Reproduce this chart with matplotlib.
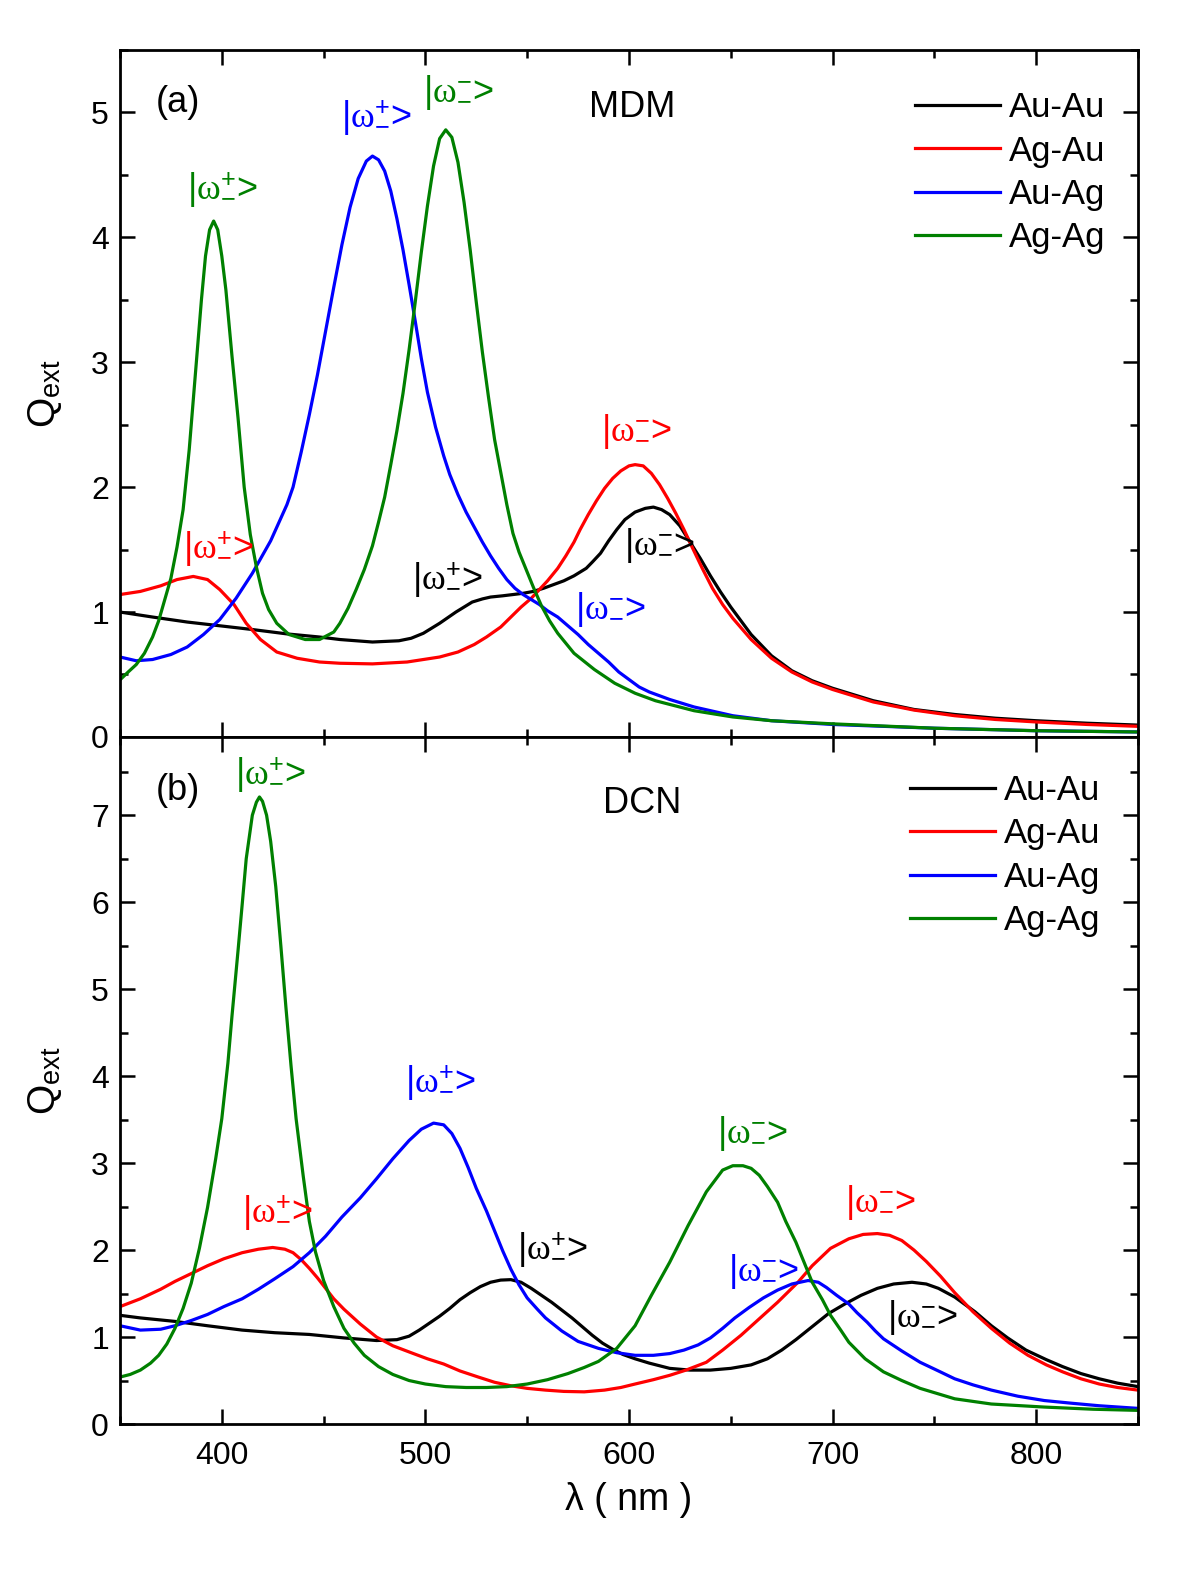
import matplotlib
matplotlib.use("Agg")
import matplotlib.pyplot as plt
from matplotlib.ticker import MultipleLocator

plt.rcParams['font.family'] = ['Liberation Sans', 'DejaVu Sans']
plt.rcParams['mathtext.fontset'] = 'custom'
plt.rcParams['mathtext.rm'] = 'Liberation Serif'
plt.rcParams['mathtext.it'] = 'Liberation Serif:italic'
plt.rcParams['mathtext.sf'] = 'Liberation Sans'

# ---- (a) MDM ----
mdm_auau_wl = [350, 356, 366, 383, 399, 415, 432, 448, 458, 474, 487, 493, 499, 503, 507, 511, 515, 519, 523, 528,
               532, 538, 543, 548, 553, 558, 563, 568, 573, 576, 579, 582, 586, 590, 594, 598, 603, 608, 612, 616,
               620, 625, 630, 635, 640, 645, 650, 660, 670, 680, 690, 700, 720, 740, 760, 780, 800, 825, 850]
mdm_auau_q = [1.00, 0.985, 0.96, 0.92, 0.89, 0.86, 0.825, 0.80, 0.78, 0.76, 0.77, 0.79, 0.83, 0.87, 0.91, 0.955, 1.00, 1.04, 1.08, 1.105,
              1.12, 1.13, 1.14, 1.15, 1.165, 1.19, 1.22, 1.25, 1.29, 1.32, 1.35, 1.40, 1.47, 1.57, 1.66, 1.74, 1.80, 1.83, 1.84, 1.82,
              1.78, 1.69, 1.56, 1.43, 1.29, 1.16, 1.04, 0.82, 0.65, 0.53, 0.45, 0.39, 0.29, 0.22, 0.18, 0.15, 0.13, 0.11, 0.095]

mdm_agau_wl = [350, 360, 370, 378, 386, 393, 399, 406, 412, 419, 427, 437, 448, 458, 474, 491, 507, 516, 524, 530,
               537, 542, 547, 552, 556, 560, 565, 569, 573, 576, 580, 584, 588, 592, 596, 600, 603, 607, 611, 615,
               619, 623, 627, 631, 636, 641, 646, 651, 660, 670, 680, 690, 700, 720, 740, 760, 780, 800, 825, 850]
mdm_agau_q = [1.14, 1.165, 1.21, 1.26, 1.285, 1.26, 1.18, 1.06, 0.91, 0.78, 0.68, 0.63, 0.60, 0.59, 0.585, 0.60, 0.64, 0.68, 0.74, 0.80,
              0.88, 0.96, 1.04, 1.11, 1.18, 1.25, 1.35, 1.45, 1.56, 1.66, 1.78, 1.89, 1.99, 2.07, 2.13, 2.17, 2.18, 2.17, 2.11, 2.02,
              1.91, 1.79, 1.66, 1.52, 1.35, 1.19, 1.06, 0.95, 0.78, 0.63, 0.52, 0.44, 0.38, 0.28, 0.215, 0.17, 0.14, 0.12, 0.10, 0.085]

mdm_auag_wl = [350, 358, 366, 375, 383, 391, 399, 407, 415, 424, 432, 435, 439, 443, 447, 451, 455, 459, 463, 467,
               471, 474, 477, 480, 483, 486, 489, 492, 495, 498, 501, 505, 509, 512, 516, 520, 524, 528, 532, 536,
               540, 544, 548, 552, 556, 560, 565, 570, 575, 580, 585, 590, 595, 600, 605, 610, 620, 632, 651, 670,
               700, 750, 800, 850]
mdm_auag_q = [0.64, 0.61, 0.62, 0.66, 0.72, 0.82, 0.94, 1.11, 1.31, 1.57, 1.86, 2.00, 2.28, 2.58, 2.90, 3.25, 3.60, 3.94, 4.24, 4.47,
              4.61, 4.65, 4.62, 4.53, 4.37, 4.15, 3.90, 3.62, 3.33, 3.03, 2.76, 2.48, 2.25, 2.10, 1.94, 1.80, 1.68, 1.56, 1.45, 1.35,
              1.26, 1.19, 1.14, 1.10, 1.06, 1.01, 0.96, 0.89, 0.82, 0.74, 0.67, 0.60, 0.52, 0.46, 0.40, 0.36, 0.30, 0.24, 0.17, 0.13,
              0.10, 0.07, 0.05, 0.04]

mdm_agag_wl = [350, 354, 358, 362, 366, 369, 372, 375, 378, 381, 384, 387, 390, 392, 394, 396, 398, 400, 402, 405,
               408, 411, 414, 417, 420, 423, 427, 433, 441, 448, 455, 458, 462, 466, 470, 474, 477, 480, 483, 486,
               489, 492, 495, 498, 501, 504, 507, 510, 513, 516, 519, 522, 525, 528, 531, 534, 537, 540, 543, 546,
               549, 553, 557, 561, 565, 573, 583, 593, 603, 613, 632, 651, 670, 700, 750, 800, 850]
mdm_agag_q = [0.457, 0.52, 0.58, 0.67, 0.80, 0.93, 1.10, 1.27, 1.52, 1.82, 2.30, 2.90, 3.50, 3.85, 4.06, 4.13, 4.06, 3.85, 3.58, 3.05,
              2.55, 2.00, 1.62, 1.36, 1.15, 1.02, 0.91, 0.82, 0.78, 0.78, 0.84, 0.91, 1.03, 1.18, 1.34, 1.53, 1.72, 1.92, 2.18, 2.45,
              2.75, 3.10, 3.48, 3.88, 4.25, 4.57, 4.79, 4.86, 4.80, 4.60, 4.28, 3.90, 3.48, 3.08, 2.72, 2.38, 2.12, 1.86, 1.63, 1.48,
              1.36, 1.20, 1.05, 0.93, 0.83, 0.67, 0.54, 0.43, 0.35, 0.29, 0.21, 0.16, 0.13, 0.105, 0.07, 0.05, 0.04]

# ---- (b) DCN ----
dcn_auau_wl = [350, 360, 377, 393, 410, 426, 443, 460, 476, 486, 492, 497, 502, 507, 512, 517, 522, 527, 532, 537,
               542, 547, 552, 557, 562, 567, 572, 577, 582, 587, 592, 597, 603, 610, 620, 630, 640, 650, 660, 668,
               675, 682, 690, 698, 706, 714, 722, 730, 739, 746, 752, 760, 770, 778, 786, 795, 805, 813, 822, 831,
               840, 850]
dcn_auau_q = [1.25, 1.22, 1.18, 1.13, 1.08, 1.05, 1.03, 0.99, 0.96, 0.97, 1.01, 1.08, 1.16, 1.24, 1.33, 1.43, 1.51, 1.58, 1.63, 1.655,
              1.66, 1.63, 1.56, 1.48, 1.40, 1.31, 1.22, 1.12, 1.02, 0.93, 0.86, 0.80, 0.75, 0.70, 0.64, 0.62, 0.62, 0.64, 0.68, 0.75,
              0.85, 0.97, 1.12, 1.27, 1.38, 1.48, 1.56, 1.61, 1.63, 1.61, 1.56, 1.46, 1.29, 1.13, 0.99, 0.85, 0.74, 0.66, 0.58, 0.52,
              0.47, 0.43]

dcn_agau_wl = [350, 360, 370, 377, 385, 393, 401, 410, 418, 425, 431, 435, 439, 443, 447, 451, 455, 460, 468, 476,
               484, 493, 501, 509, 517, 526, 534, 542, 550, 559, 568, 578, 588, 596, 603, 612, 620, 628, 638, 646,
               655, 664, 673, 683, 690, 699, 708, 715, 722, 728, 734, 740, 746, 753, 760, 769, 778, 787, 796, 805,
               813, 822, 831, 840, 850]
dcn_agau_q = [1.35, 1.44, 1.55, 1.64, 1.73, 1.82, 1.90, 1.97, 2.01, 2.03, 2.01, 1.97, 1.89, 1.79, 1.68, 1.56, 1.44, 1.32, 1.15, 1.00,
              0.90, 0.82, 0.75, 0.69, 0.61, 0.54, 0.48, 0.44, 0.41, 0.39, 0.375, 0.37, 0.39, 0.42, 0.46, 0.51, 0.56, 0.62, 0.71, 0.85,
              1.02, 1.21, 1.40, 1.63, 1.82, 2.02, 2.13, 2.18, 2.19, 2.17, 2.11, 2.00, 1.87, 1.70, 1.51, 1.29, 1.10, 0.93, 0.79, 0.68,
              0.60, 0.52, 0.46, 0.42, 0.39]

dcn_auag_wl = [350, 360, 370, 377, 385, 393, 401, 410, 418, 426, 435, 443, 451, 459, 468, 476, 484, 492, 498, 504,
               509, 513, 517, 521, 525, 530, 534, 538, 542, 546, 550, 555, 559, 567, 575, 585, 594, 603, 612, 620,
               627, 634, 640, 646, 652, 659, 666, 673, 680, 688, 693, 697, 702, 708, 712, 717, 721, 725, 734, 743,
               752, 760, 769, 778, 791, 804, 817, 831, 850]
dcn_auag_q = [1.13, 1.08, 1.09, 1.13, 1.19, 1.26, 1.35, 1.44, 1.55, 1.67, 1.81, 1.97, 2.16, 2.38, 2.60, 2.82, 3.05, 3.26, 3.39, 3.46,
              3.44, 3.34, 3.17, 2.95, 2.71, 2.45, 2.22, 1.99, 1.78, 1.60, 1.45, 1.32, 1.22, 1.07, 0.95, 0.87, 0.82, 0.79, 0.79, 0.81,
              0.85, 0.91, 0.99, 1.10, 1.22, 1.34, 1.45, 1.54, 1.61, 1.65, 1.63, 1.57, 1.48, 1.38, 1.28, 1.17, 1.07, 0.98, 0.84, 0.71,
              0.61, 0.52, 0.45, 0.39, 0.32, 0.27, 0.24, 0.21, 0.18]

dcn_agag_wl = [350, 355, 360, 365, 369, 373, 377, 381, 385, 389, 393, 397, 400, 403, 405, 408, 410, 412, 415, 417,
               418.5, 420, 422, 424, 426.5, 429, 431.5, 434, 436.5, 440, 443, 446, 450, 455, 460, 465, 470, 477, 484, 492,
               500, 510, 520, 530, 540, 550, 560, 570, 578, 585, 594, 603, 611, 620, 629, 638, 646, 651, 656, 660,
               664, 668, 673, 677, 682, 686, 690, 695, 699, 704, 708, 716, 725, 734, 743, 760, 778, 804, 828, 850]
dcn_agag_q = [0.54, 0.57, 0.62, 0.70, 0.79, 0.92, 1.10, 1.33, 1.62, 2.02, 2.49, 3.05, 3.51, 4.15, 4.69, 5.45, 5.97, 6.50, 7.00, 7.15,
              7.21, 7.16, 7.00, 6.70, 6.18, 5.50, 4.79, 4.12, 3.51, 2.85, 2.33, 1.98, 1.65, 1.35, 1.10, 0.93, 0.79, 0.66, 0.57, 0.50,
              0.46, 0.43, 0.42, 0.42, 0.43, 0.46, 0.51, 0.58, 0.65, 0.72, 0.87, 1.13, 1.48, 1.86, 2.28, 2.67, 2.92, 2.97, 2.97, 2.94,
              2.86, 2.73, 2.55, 2.33, 2.09, 1.86, 1.63, 1.43, 1.25, 1.08, 0.94, 0.75, 0.60, 0.50, 0.41, 0.29, 0.23, 0.195, 0.17, 0.157]

names = ["Au-Au", "Ag-Au", "Au-Ag", "Ag-Ag"]
colors = ["#000000", "#ff0000", "#0000ff", "#008000"]

# mode labels: (wavelength, Q, which mode, colour index)
PLUS = r"|$\mathrm{\omega}^{\mathsf{+}}_{\mathsf{-}}$>"
MINUS = r"|$\mathrm{\omega}^{\mathsf{-}}_{\mathsf{-}}$>"
mdm_marks = [(400, 4.38, PLUS, 3), (475.7, 4.96, PLUS, 2), (516, 5.16, MINUS, 3),
             (398, 1.51, PLUS, 1), (603.4, 2.44, MINUS, 1), (510.6, 1.26, PLUS, 0),
             (614.7, 1.53, MINUS, 0), (591, 1.02, MINUS, 2)]
dcn_marks = [(423.7, 7.46, PLUS, 3), (507.2, 3.92, PLUS, 2), (427.1, 2.43, PLUS, 1),
             (562.2, 2.0, PLUS, 0), (660.4, 3.34, MINUS, 3), (723.3, 2.55, MINUS, 1),
             (665.8, 1.75, MINUS, 2), (744, 1.22, MINUS, 0)]

fig = plt.figure(figsize=(12, 15.69), dpi=100)
ax1 = fig.add_axes([0.1, 0.5303, 0.8483, 0.4379])
ax2 = fig.add_axes([0.1, 0.0924, 0.8483, 0.4379], sharex=ax1)

panels = [
    (ax1, [(mdm_auau_wl, mdm_auau_q), (mdm_agau_wl, mdm_agau_q), (mdm_auag_wl, mdm_auag_q), (mdm_agag_wl, mdm_agag_q)],
     mdm_marks, "(a)", "MDM", 5.5, (378.5, 5.08), (601.5, 5.04), 0.940, 0.968),
    (ax2, [(dcn_auau_wl, dcn_auau_q), (dcn_agau_wl, dcn_agau_q), (dcn_auag_wl, dcn_auag_q), (dcn_agag_wl, dcn_agag_q)],
     dcn_marks, "(b)", "DCN", 7.9, (378.5, 7.29), (606.4, 7.14), 0.946, 0.963),
]

for ax, series, marks, tag, title, ytop, tagpos, titlepos, legy, legx in panels:
    for (wl, q), name, c in zip(series, names, colors):
        ax.plot(wl, q, color=c, lw=2.3, label=name, solid_joinstyle='round')
    for x, y, s, ci in marks:
        ax.text(x, y, s, color=colors[ci], fontsize=26, ha='center', va='center')
    ax.text(tagpos[0], tagpos[1], tag, fontsize=26, ha='center', va='center')
    ax.text(titlepos[0], titlepos[1], title, fontsize=26, ha='center', va='center')
    ax.set_xlim(350, 850)
    ax.set_ylim(0, ytop)
    ax.xaxis.set_major_locator(MultipleLocator(100))
    ax.xaxis.set_minor_locator(MultipleLocator(50))
    ax.yaxis.set_major_locator(MultipleLocator(1))
    ax.yaxis.set_minor_locator(MultipleLocator(0.5))
    ax.tick_params(which='both', direction='in', top=True, right=True, width=1.8, labelsize=23)
    ax.tick_params(which='major', length=11, pad=8)
    ax.tick_params(which='minor', length=6)
    for sp in ax.spines.values():
        sp.set_linewidth(2.0)
    ax.set_ylabel("Q$_{\\mathsf{ext}}$", fontsize=28)
    ax.yaxis.set_label_coords(-0.055, 0.5)
    ax.legend(loc='upper right', bbox_to_anchor=(legx, legy), frameon=False, fontsize=25,
              handlelength=2.45, handletextpad=0.25, labelspacing=0.3, borderpad=0, borderaxespad=0)

ax1.tick_params(labelbottom=False)
ax2.set_yticks(range(0, 8))
ax2.tick_params(axis='x', pad=12)
ax2.set_xlabel("λ ( nm )", fontsize=27, labelpad=8)

fig.savefig("out.png", dpi=100)
